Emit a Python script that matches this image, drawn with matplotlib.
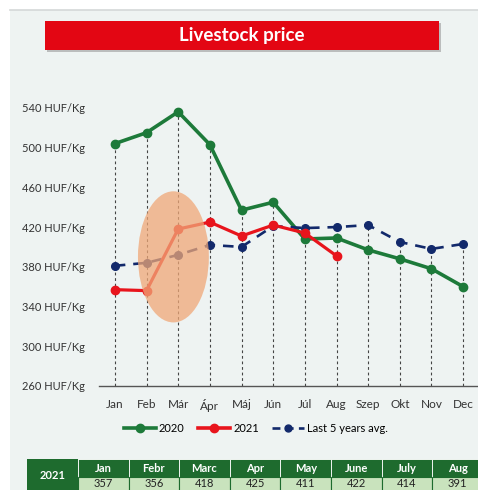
import matplotlib.pyplot as plt
from matplotlib.patches import Rectangle, Ellipse
from matplotlib.lines import Line2D

plt.rcParams['font.family'] = ['Lato', 'DejaVu Sans']

months = ['Jan', 'Feb', 'Már', 'Ápr', 'Máj', 'Jún', 'Júl', 'Aug', 'Szep', 'Okt', 'Nov', 'Dec']
price_2020 = [504, 515, 536, 503, 437, 445, 408, 409, 397, 388, 378, 360]
price_2021 = [357, 356, 418, 425, 411, 422, 414, 391]
avg_5y = [381, 384, 392, 402, 400, 421, 419, 420, 422, 405, 398, 403]
yticks = [260, 300, 340, 380, 420, 460, 500, 540]
table_months = ['Jan', 'Febr', 'Marc', 'Apr', 'May', 'June', 'July', 'Aug']

W, H = 478, 490
green = '#1d7a3a'
red = '#e8141c'
navy = '#12296b'
bg = '#eef3f2'

fig = plt.figure(figsize=(W / 100, H / 100), dpi=100)
fig.patch.set_facecolor('white')

def px(x, y, w, h):
    # pixel box (top-left origin) -> figure fraction
    return (x / W, 1 - (y + h) / H, w / W, h / H)

# panel background and top line
fig.patches.append(Rectangle(px(10, 10, 468, 480)[:2], 468 / W, 480 / H,
                             transform=fig.transFigure, facecolor=bg, edgecolor='none', zorder=-5))
fig.add_artist(Line2D([10 / W, 1], [1 - 10 / H, 1 - 10 / H], color='#d4d8d8', lw=1.2,
                      transform=fig.transFigure))

# title banner with shadow
x0, y0, w0, h0 = px(47, 23, 394, 29)
fig.patches.append(Rectangle((x0, y0), w0, h0, transform=fig.transFigure,
                             facecolor='#9a9a9a', edgecolor='none', alpha=0.6, zorder=1))
x0, y0, w0, h0 = px(45, 21, 394, 29)
fig.patches.append(Rectangle((x0, y0), w0, h0, transform=fig.transFigure,
                             facecolor='#e30613', edgecolor='none', zorder=2))
fig.text(x0 + w0 / 2, y0 + h0 / 2, 'Livestock price', color='white', fontsize=13.5,
         fontweight='bold', ha='center', va='center', zorder=3)

# main chart
ax = fig.add_axes(px(99, 88, 380, 298))
ax.set_zorder(1)
ax.set_facecolor('none')
x = list(range(len(months)))

tops = [max(v for v in (price_2020[i], avg_5y[i], price_2021[i] if i < len(price_2021) else 0))
        for i in x]
ax.vlines(x, 260, tops, colors='#444444', linestyles=(0, (2.5, 2.5)), lw=0.8, zorder=1)

ax.plot(x, price_2020, color=green, lw=2.6, marker='o', ms=6, zorder=3)
ax.plot(x[:len(price_2021)], price_2021, color=red, lw=2.3, marker='o', ms=6, zorder=4)
ax.plot(x, avg_5y, color=navy, lw=1.9, ls=(0, (4, 3)), marker='o', ms=5.5, zorder=3)

ax.add_patch(Ellipse((1.85, 390), 2.24, 132, facecolor='#f0a878', edgecolor='none',
                     alpha=0.75, zorder=5))

ax.set_xlim(-0.5, 11.5)
ax.set_ylim(260, 560)
ax.set_xticks(x)
ax.set_xticklabels(months, fontsize=8.5, color='#333333')
ax.set_yticks(yticks)
ax.set_yticklabels([f'{v} HUF/Kg' for v in yticks], fontsize=8, color='#333333')
ax.tick_params(length=0, axis='y', pad=10)
ax.tick_params(length=0, axis='x', pad=9)
for s in ['top', 'right', 'left']:
    ax.spines[s].set_visible(False)
ax.spines['bottom'].set_color('#555555')
ax.spines['bottom'].set_linewidth(1)

handles = [
    Line2D([], [], color=green, lw=2.6, marker='o', ms=6),
    Line2D([], [], color=red, lw=2.6, marker='o', ms=6),
    Line2D([], [], color=navy, lw=1.9, ls=(0, (3, 2)), marker='o', ms=5),
]
fig.legend(handles, ['2020', '2021', 'Last 5 years avg.'], loc='center',
           bbox_to_anchor=(256 / W, 1 - 428 / H), ncol=3, frameon=False,
           fontsize=8, handlelength=2.9, columnspacing=1.2, handletextpad=0.25)

# table at bottom
dark = '#1e6b2e'
light = '#c9e3bd'
tx, ty, hh, vh = 27, 459, 18, 15
fig.patches.append(Rectangle(px(tx, ty, 51, hh + vh)[:2], 51 / W, (hh + vh) / H,
                             transform=fig.transFigure, facecolor=dark, edgecolor='none', zorder=2))
fig.text((tx + 25.5) / W, 1 - (ty + 16) / H, '2021', color='white', fontsize=8,
         fontweight='bold', ha='center', va='center', zorder=3)
cw = 50.6
for i, (m, v) in enumerate(zip(table_months, price_2021)):
    cx = 78 + i * cw
    a, b, c, d = px(cx, ty, cw, hh)
    fig.patches.append(Rectangle((a, b), c, d, transform=fig.transFigure,
                                 facecolor=dark, edgecolor='white', lw=0.6, zorder=2))
    fig.text(a + c / 2, b + d / 2, m, color='white', fontsize=8, fontweight='bold',
             ha='center', va='center', zorder=3)
    a, b, c, d = px(cx, ty + hh, cw, vh)
    fig.patches.append(Rectangle((a, b), c, d, transform=fig.transFigure,
                                 facecolor=light, edgecolor=dark, lw=0.8, zorder=2))
    fig.text(a + c / 2, b + d / 2 + 0.002, str(v), color='#222222', fontsize=8,
             ha='center', va='center', zorder=3)

fig.savefig('out.png', dpi=100)
